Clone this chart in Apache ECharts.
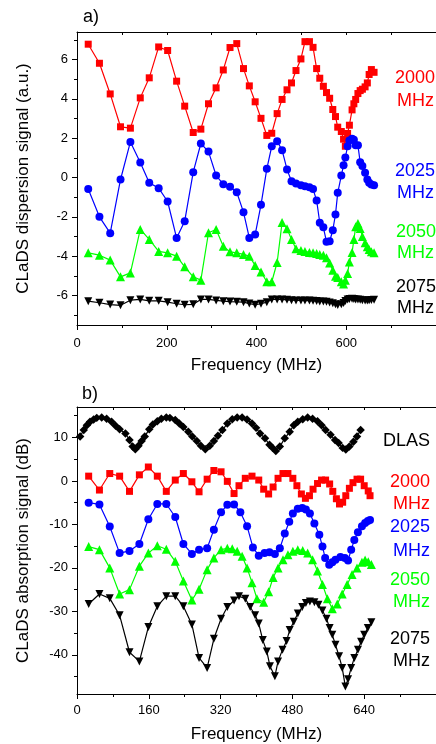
<!DOCTYPE html>
<html>
<head>
<meta charset="utf-8">
<script src="https://cdn.jsdelivr.net/npm/echarts@6/dist/echarts.min.js"></script>
<style>
  html, body { margin: 0; padding: 0; background: #fff; }
  #chart { width: 436px; height: 744px; }
</style>
</head>
<body>
<div id="chart"></div>
<script>
// panel a) dispersion, all four traces share the same frequency grid
const freqA = [25, 50, 74, 97, 119, 141, 161, 182, 202, 222, 240, 259, 276, 293, 310, 326, 341, 356, 371, 384,
  397, 410, 423, 434, 446, 457, 468, 478, 488, 499, 508, 518, 526, 534, 541, 549, 556, 563, 570, 576,
  581, 589, 594, 598, 603, 607, 613, 617, 621, 626, 631, 636, 642, 647, 651, 656, 662];
const disp2000 = [6.78, 5.81, 4.25, 2.58, 2.51, 4.05, 5.07, 6.64, 6.46, 4.90, 3.63, 2.29, 2.46, 3.75, 4.56, 5.47, 6.61, 6.81, 5.54, 4.66,
  3.85, 3.01, 2.14, 2.25, 3.25, 3.97, 4.46, 4.81, 5.44, 6.03, 6.91, 6.91, 6.62, 5.54, 5.05, 4.64, 4.32, 4.03, 3.46, 3.10,
  2.56, 2.34, 1.95, 1.59, 2.24, 2.66, 3.44, 3.75, 3.97, 4.27, 4.42, 4.49, 4.61, 4.81, 5.24, 5.49, 5.35];
const disp2025 = [-0.58, -2.0, -2.83, -0.10, 1.81, 0.76, -0.27, -0.54, -1.22, -3.08, -2.22, 0.27, 1.73, 1.32, 0.10, -0.34, -0.47, -0.75, -1.76, -3.07,
  -2.90, -1.39, 0.44, 1.59, 1.85, 1.39, 0.41, -0.19, -0.31, -0.39, -0.44, -0.49, -0.59, -1.17, -2.30, -2.53, -3.27, -3.24, -2.68, -1.88,
  -0.78, 0.10, 0.63, 1.02, 1.59, 1.88, 1.97, 1.92, 1.64, 1.64, 0.78, 0.58, 0.24, -0.10, -0.27, -0.36, -0.39];
const disp2050 = [-3.83, -3.95, -4.20, -5.05, -4.85, -2.64, -3.15, -3.76, -3.83, -4.0, -4.54, -5.05, -5.22, -2.81, -2.64, -3.49, -3.78, -3.83, -3.91, -4.0,
  -4.47, -4.80, -5.30, -5.30, -4.32, -2.29, -2.60, -3.15, -3.62, -3.71, -3.76, -3.81, -3.83, -3.86, -3.91, -3.95, -4.08, -4.35, -4.71, -5.02,
  -5.09, -5.30, -5.42, -5.22, -4.88, -4.29, -3.81, -3.15, -2.51, -2.34, -2.59, -3.0, -3.32, -3.52, -3.66, -3.78, -3.83];
const disp2075 = [-6.29, -6.37, -6.46, -6.5, -6.24, -6.2, -6.27, -6.27, -6.34, -6.42, -6.47, -6.45, -6.2, -6.2, -6.25, -6.29, -6.31, -6.32, -6.34, -6.41,
  -6.47, -6.42, -6.34, -6.2, -6.2, -6.2, -6.22, -6.24, -6.25, -6.25, -6.26, -6.26, -6.27, -6.28, -6.3, -6.3, -6.32, -6.35, -6.4, -6.45,
  -6.48, -6.45, -6.38, -6.28, -6.2, -6.18, -6.17, -6.18, -6.2, -6.2, -6.22, -6.24, -6.25, -6.25, -6.24, -6.23, -6.22];

// panel b) absorption, each trace has its own frequency points
const freqDlas = [7, 15, 22, 29, 37, 44, 55, 66, 77, 86, 95, 108, 117, 124, 130, 137, 144, 151, 161, 169,
  179, 188, 199, 207, 219, 228, 237, 248, 257, 267, 276, 286, 296, 305, 314, 324, 335, 346, 357, 368,
  379, 390, 399, 408, 419, 429, 436, 443, 452, 463, 474, 483, 492, 503, 514, 525, 536, 545, 554, 565,
  575, 583, 592, 599, 607, 616, 624, 632];
const absDlas = [10.2, 11.7, 12.8, 13.6, 14.1, 14.5, 14.6, 14.3, 13.6, 12.7, 11.9, 10.9, 9.4, 7.9, 7.3, 8.1, 9.2, 10.2, 11.9, 13.0,
  13.7, 14.3, 14.6, 14.5, 14.0, 13.2, 12.4, 11.3, 10.2, 9.2, 8.1, 7.3, 8.1, 9.2, 10.4, 11.7, 13.2, 14.2, 14.6, 14.6,
  14.1, 13.2, 12.2, 10.9, 9.8, 8.3, 7.6, 6.9, 7.9, 9.8, 11.3, 12.8, 13.6, 14.2, 14.6, 14.3, 13.7, 12.8, 11.7, 10.6,
  9.4, 8.7, 7.6, 7.2, 7.9, 9.0, 10.2, 11.7];
const freq2000 = [26, 50, 73, 95, 117, 139, 159, 179, 199, 219, 237, 256, 272, 290, 305, 321, 335, 350, 361, 375,
  390, 405, 416, 427, 437, 448, 459, 470, 481, 490, 500, 509, 518, 526, 536, 545, 554, 563, 570, 578,
  585, 592, 599, 607, 615, 624, 632, 640, 649, 653];
const abs2000 = [1.1, -2.1, 1.7, 1.1, -2.4, 1.4, 3.2, 1.1, -2.4, 0.2, 1.7, -0.2, -2.5, 0.4, 2.4, 2.1, -0.1, -2.9, -1.1, 0.6,
  1.1, 0.2, -1.9, -3.0, -1.4, 0.6, 1.7, 1.7, 0.6, -1.1, -3.0, -4.0, -3.4, -1.9, -0.6, 0.2, 0.2, -0.7, -2.4, -4.1,
  -5.3, -4.9, -3.4, -1.7, -0.4, 0.4, 0.4, -1.1, -2.3, -3.4];
const freq2025 = [26, 50, 73, 95, 117, 139, 159, 179, 199, 219, 237, 256, 272, 290, 305, 321, 335, 350, 364, 379,
  392, 405, 418, 429, 441, 452, 463, 473, 481, 492, 502, 510, 519, 529, 540, 547, 553, 562, 569, 576,
  587, 597, 604, 611, 618, 626, 635, 642, 648, 653];
const abs2025 = [-5.0, -5.4, -10.5, -16.6, -16.1, -14.5, -8.8, -5.3, -5.3, -8.3, -14.5, -16.8, -15.8, -15.5, -11.2, -7.2, -5.5, -5.4, -7.2, -10.4,
  -15.3, -17.2, -16.6, -16.4, -16.8, -15.5, -12.1, -9.4, -7.5, -6.4, -6.2, -6.6, -7.5, -9.8, -12.4, -15.1, -17.7, -19.3, -18.7, -18.1,
  -17.5, -17.7, -18.3, -15.8, -13.6, -11.8, -10.4, -9.7, -9.2, -9.0];
const freq2050 = [26, 50, 73, 95, 117, 139, 159, 179, 199, 219, 237, 256, 272, 290, 305, 321, 335, 346, 357, 368,
  379, 390, 401, 416, 427, 437, 448, 459, 470, 481, 492, 503, 514, 525, 536, 547, 558, 569, 580, 591,
  602, 613, 624, 635, 642, 649, 656];
const abs2050 = [-15.1, -15.8, -20.0, -26.0, -25.0, -19.6, -16.6, -14.9, -15.7, -18.5, -23.0, -27.4, -24.9, -20.4, -17.7, -15.8, -15.5, -15.6, -16.2, -17.3,
  -20.0, -23.4, -27.1, -27.9, -25.5, -22.2, -20.0, -18.1, -17.0, -16.2, -15.8, -16.0, -16.6, -18.1, -20.7, -23.8, -27.1, -29.4, -28.3, -26.0,
  -23.8, -21.5, -20.0, -18.7, -18.2, -18.6, -19.2];
const freq2075 = [26, 50, 73, 95, 117, 139, 159, 179, 199, 219, 237, 256, 272, 290, 305, 321, 335, 350, 361, 375,
  386, 397, 405, 414, 423, 430, 441, 448, 458, 467, 474, 483, 492, 502, 510, 519, 529, 538, 547, 556,
  563, 569, 576, 584, 591, 598, 604, 611, 618, 626, 633, 640, 648, 656];
const abs2075 = [-28.3, -26.0, -27.0, -30.9, -39.4, -41.5, -33.6, -28.8, -26.5, -26.5, -28.8, -33.0, -40.7, -43.0, -36.3, -31.7, -29.0, -27.5, -26.5, -27.1,
  -29.0, -30.9, -32.8, -36.6, -39.2, -42.6, -44.9, -41.5, -38.8, -36.8, -34.3, -32.4, -30.5, -29.0, -28.1, -27.7, -27.9, -28.5, -29.8, -31.7,
  -33.8, -35.4, -37.7, -40.3, -43.0, -47.3, -45.6, -43.0, -40.7, -38.8, -37.0, -35.4, -33.8, -32.5];

// tick values
const ticksA = [-6, -4, -2, 0, 2, 4, 6];
const minorA = [-7, -5, -3, -1, 1, 3, 5, 7];
const ticksB = [-40, -30, -20, -10, 0, 10];
const minorB = [-45, -35, -25, -15, -5, 5, 15];

const FONT = 'Liberation Sans, Arial, sans-serif';
const zip = (xs, ys) => xs.map((x, i) => [x, ys[i]]);

const chart = echarts.init(document.getElementById('chart'));

function bottomAxis(grid, step, margin) {
  return {
    type: 'value', gridIndex: grid, min: 0, max: 800, interval: step,
    name: 'Frequency (MHz)', nameLocation: 'middle', nameGap: 32,
    nameTextStyle: { fontSize: 17, color: '#000', fontFamily: FONT },
    axisLine: { show: true, onZero: false, lineStyle: { color: '#000', width: 1 } },
    axisTick: { show: true, inside: false, length: 5, lineStyle: { color: '#000' } },
    minorTick: { show: true, splitNumber: 2, length: 3, lineStyle: { color: '#000' } },
    axisLabel: { fontSize: 13, color: '#000', fontFamily: FONT, margin: margin, showMaxLabel: false },
    splitLine: { show: false }
  };
}
function topAxis(grid, step) {
  return {
    type: 'value', gridIndex: grid, position: 'top', min: 0, max: 800, interval: step,
    axisLine: { show: true, onZero: false, lineStyle: { color: '#000', width: 1 } },
    axisTick: { show: true, inside: true, length: 3, lineStyle: { color: '#000' } },
    axisLabel: { show: false }, splitLine: { show: false }
  };
}
function leftAxis(grid, lo, hi, ticks, title) {
  return {
    type: 'value', gridIndex: grid, position: 'left', min: lo, max: hi,
    name: title, nameLocation: 'middle', nameGap: 45,
    nameTextStyle: { fontSize: 17, color: '#000', fontFamily: FONT },
    axisLine: { show: true, onZero: false, lineStyle: { color: '#000', width: 1 } },
    axisTick: { show: true, length: 5, customValues: ticks, lineStyle: { color: '#000' } },
    axisLabel: { fontSize: 13, color: '#000', fontFamily: FONT, margin: 9, customValues: ticks },
    splitLine: { show: false }
  };
}
function minorAxis(grid, lo, hi, ticks) {
  return {
    type: 'value', gridIndex: grid, position: 'left', min: lo, max: hi,
    axisLine: { show: false },
    axisTick: { show: true, length: 3, customValues: ticks, lineStyle: { color: '#000' } },
    axisLabel: { show: false }, splitLine: { show: false }
  };
}

function line(name, data, color, symbol, size, xi, yi, rot) {
  return {
    name: name, type: 'line', xAxisIndex: xi, yAxisIndex: yi, data: data,
    symbol: symbol, symbolSize: size, symbolRotate: rot || 0,
    lineStyle: { color: color, width: 1.2 }, itemStyle: { color: color },
    animation: false
  };
}

// side labels: y is the text's vertical centre
function label(text, x, y, color) {
  return {
    type: 'text', left: x, top: y - 9,
    style: { text: text, fill: color, font: '18px ' + FONT }
  };
}

const option = {
  animation: false,
  grid: [
    { left: 77, top: 32, right: -6, height: 293 },
    { left: 77, top: 407, right: -6, height: 291 }
  ],
  xAxis: [bottomAxis(0, 200, 12), topAxis(0, 100), bottomAxis(1, 160, 10), topAxis(1, 80)],
  yAxis: [
    leftAxis(0, -7.5, 7.4, ticksA, 'CLaDS dispersion signal (a.u.)'),
    minorAxis(0, -7.5, 7.4, minorA),
    leftAxis(1, -49, 17, ticksB, 'CLaDS absorption signal (dB)'),
    minorAxis(1, -49, 17, minorB)
  ],
  series: [
    line('2000 MHz', zip(freqA, disp2000), '#ff0000', 'rect', 7, 0, 0),
    line('2025 MHz', zip(freqA, disp2025), '#0000ff', 'circle', 8, 0, 0),
    line('2050 MHz', zip(freqA, disp2050), '#00ff00', 'triangle', 9, 0, 0),
    line('2075 MHz', zip(freqA, disp2075), '#000000', 'triangle', 8, 0, 0, 180),
    line('DLAS', zip(freqDlas, absDlas), '#000000', 'rect', 6, 2, 2, 45),
    line('2000 MHz', zip(freq2000, abs2000), '#ff0000', 'rect', 7, 2, 2),
    line('2025 MHz', zip(freq2025, abs2025), '#0000ff', 'circle', 8, 2, 2),
    line('2050 MHz', zip(freq2050, abs2050), '#00ff00', 'triangle', 9, 2, 2),
    line('2075 MHz', zip(freq2075, abs2075), '#000000', 'triangle', 8, 2, 2, 180)
  ],
  graphic: [
    label('a)', 83, 17, '#000'),
    label('b)', 82, 394, '#000'),
    label('2000', 395, 78, '#ff0000'),
    label('MHz', 397, 101, '#ff0000'),
    label('2025', 395, 171, '#0000ff'),
    label('MHz', 397, 193, '#0000ff'),
    label('2050', 396, 232, '#00ff00'),
    label('MHz', 397, 253, '#00ff00'),
    label('2075', 396, 287, '#000000'),
    label('MHz', 397, 308, '#000000'),
    label('DLAS', 383, 441, '#000000'),
    label('2000', 390, 482, '#ff0000'),
    label('MHz', 393, 504, '#ff0000'),
    label('2025', 390, 527, '#0000ff'),
    label('MHz', 393, 551, '#0000ff'),
    label('2050', 390, 580, '#00ff00'),
    label('MHz', 393, 602, '#00ff00'),
    label('2075', 390, 639, '#000000'),
    label('MHz', 393, 661, '#000000')
  ]
};
chart.setOption(option);
</script>
</body>
</html>
